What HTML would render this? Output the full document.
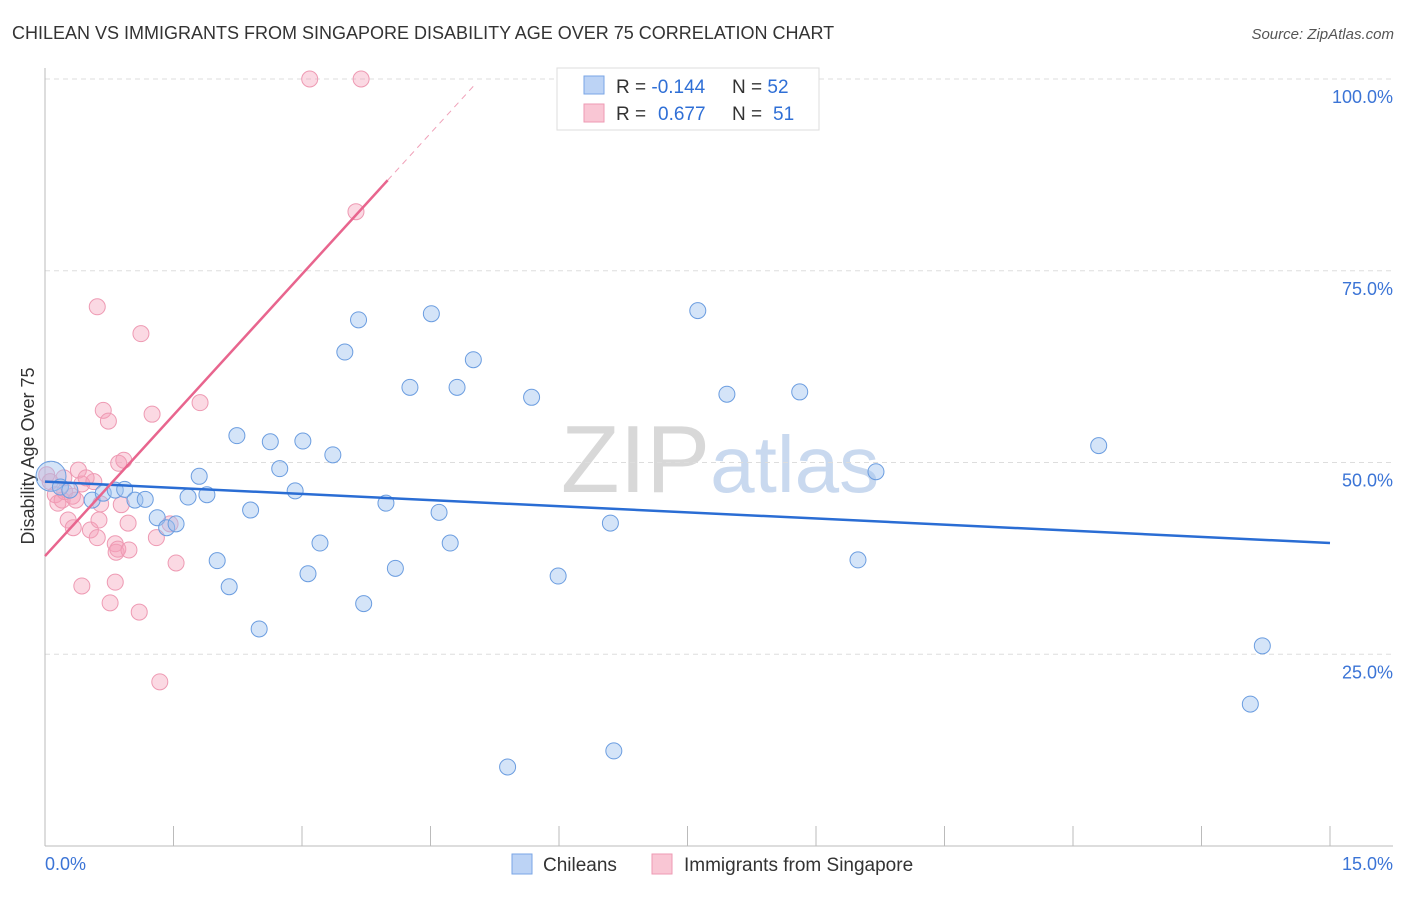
<!DOCTYPE html>
<html><head><meta charset="utf-8"><style>
body{margin:0;background:#fff;font-family:"Liberation Sans",sans-serif;}
svg text{font-family:"Liberation Sans",sans-serif;}
</style></head><body>
<svg id="c" width="1406" height="892" xmlns="http://www.w3.org/2000/svg">
<text x="12" y="39" font-size="18" fill="#333">CHILEAN VS IMMIGRANTS FROM SINGAPORE DISABILITY AGE OVER 75 CORRELATION CHART</text>
<text x="1394" y="39" font-size="15" fill="#555" font-style="italic" text-anchor="end">Source: ZipAtlas.com</text>
<text x="720" y="492" font-size="96" fill="#ddd" text-anchor="middle" font-family="Liberation Serif"><tspan fill="#d8d8d8">ZIP</tspan><tspan fill="#c9d9ef" font-family="Liberation Sans" font-size="80">atlas</tspan></text>
<text x="34" y="456" font-size="18" fill="#333" text-anchor="middle" transform="rotate(-90 34 456)">Disability Age Over 75</text>
<g id="grid"></g><g id="pts"></g><g id="lines"></g>
<g>
<rect x="557" y="68" width="262" height="62" fill="#fff" stroke="#ddd"/>
<rect x="584" y="76" width="20" height="18" fill="#bcd3f5" stroke="#7aa6e6"/>
<rect x="584" y="104" width="20" height="18" fill="#f9c6d4" stroke="#ee9ab3"/>
<text x="616" y="93" font-size="19" fill="#333">R = <tspan fill="#2f6fd6">-0.144</tspan><tspan x="732">N = </tspan><tspan fill="#2f6fd6">52</tspan></text>
<text x="616" y="120" font-size="19" fill="#333">R = <tspan fill="#2f6fd6" x="658">0.677</tspan><tspan x="732">N = </tspan><tspan fill="#2f6fd6" x="773">51</tspan></text>
</g>
<text x="45" y="870" font-size="18" fill="#3b74d6">0.0%</text>
<text x="1393" y="870" font-size="18" fill="#3b74d6" text-anchor="end">15.0%</text>
<g>
<rect x="512" y="854" width="20" height="20" fill="#bcd3f5" stroke="#7aa6e6"/>
<text x="543" y="871" font-size="19" fill="#333">Chileans</text>
<rect x="652" y="854" width="20" height="20" fill="#f9c6d4" stroke="#ee9ab3"/>
<text x="684" y="871" font-size="19" fill="#333">Immigrants from Singapore</text>
</g>
</svg>
<script>
const yTicks=[100,75,50,25];
const yTickLabels=["100.0%","75.0%","50.0%","25.0%"];
const xTicks=[0,1.5,3,4.5,6,7.5,9,10.5,12,13.5,15];
const blueX=[0.07,0.18,0.29,0.55,0.68,0.82,0.93,1.05,1.17,1.31,1.42,1.53,1.67,1.80,1.89,2.01,2.15,2.24,2.40,2.50,2.63,2.74,2.92,3.01,3.07,3.21,3.36,3.50,3.66,3.72,3.98,4.09,4.26,4.51,4.60,4.73,4.81,5.00,5.40,5.68,5.99,6.60,6.64,7.62,7.96,8.81,9.49,9.70,12.30,14.07,14.21];
const blueY=[48.2,46.8,46.4,45.1,46.0,46.4,46.5,45.1,45.2,42.8,41.5,42.0,45.5,48.2,45.8,37.2,33.8,53.5,43.8,28.3,52.7,49.2,46.3,52.8,35.5,39.5,51.0,64.4,68.6,31.6,44.7,36.2,59.8,69.4,43.5,39.5,59.8,63.4,10.3,58.5,35.2,42.1,12.4,69.8,58.9,59.2,37.3,48.8,52.2,18.5,26.1];
const pinkX=[0.02,0.06,0.12,0.15,0.2,0.23,0.27,0.32,0.33,0.36,0.39,0.43,0.43,0.53,0.57,0.61,0.61,0.63,0.65,0.68,0.74,0.76,0.82,0.83,0.85,0.86,0.82,0.92,0.89,0.97,0.98,1.10,1.12,1.25,1.30,1.34,1.46,1.53,1.81,3.09,3.63,3.69,0.22,0.48];
const pinkY=[48.4,47.5,45.8,44.7,45.1,46.2,42.5,45.6,41.5,45.1,49.0,47.2,33.9,41.2,47.5,70.3,40.2,42.5,44.6,56.8,55.4,31.7,39.4,38.3,38.7,49.9,34.4,50.3,44.5,42.1,38.6,30.5,66.8,56.3,40.2,21.4,42.0,36.9,57.8,100,82.7,100,48.0,48.0];
const blueTrend=[47.5,39.5]; // y at x=0 and x=15
const pinkTrend=[37.8,12.25]; // intercept, slope
const X=v=>45+v/15*1285, Y=v=>846-v/100*767;
const NS="http://www.w3.org/2000/svg";
function mk(p,t,a){const e=document.createElementNS(NS,t);for(const k in a)e.setAttribute(k,a[k]);p.appendChild(e);return e;}
const g=document.getElementById('grid');
yTicks.forEach((t,i)=>{
 const l=mk(g,'line',{x1:45,x2:1393,y1:Y(t),y2:Y(t),stroke:'#ddd','stroke-dasharray':'5,4'});
 
 
 const tx=mk(g,'text',{x:1393,y:Y(t)+24,'font-size':18,fill:'#3b74d6','text-anchor':'end'});
 tx.textContent=yTickLabels[i];
 
 
});
mk(g,'line',{x1:45,x2:45,y1:68,y2:846,stroke:'#bbb'});
mk(g,'line',{x1:45,x2:1393,y1:846,y2:846,stroke:'#bbb'});
xTicks.forEach(t=>{
 const l=mk(g,'line',{x1:X(t),x2:X(t),y1:826,y2:846,stroke:'#bbb'});
 
 
});
const pts=document.getElementById('pts');
pinkX.forEach((x,i)=>{
 const c=mk(pts,'circle',{cx:X(x),cy:Y(pinkY[i]),r:8,fill:'rgba(245,160,185,0.4)',stroke:'#ee9ab3','stroke-width':1});
 
 
});
blueX.forEach((x,i)=>{
 const c=mk(pts,'circle',{cx:X(x),cy:Y(blueY[i]),r:i==0?15:8,fill:'rgba(160,195,240,0.45)',stroke:'#6b9de0','stroke-width':1});
 
 
});
const ln=document.getElementById('lines');
const b=mk(ln,'line',{x1:X(0),y1:Y(blueTrend[0]),x2:X(15),y2:Y(blueTrend[1]),stroke:'#2a6dd4','stroke-width':2.5});


const p=mk(ln,'line',{x1:X(0),y1:Y(pinkTrend[0]),x2:X(4),y2:Y(pinkTrend[0]+pinkTrend[1]*4),stroke:'#e8658e','stroke-width':2.5});


const pd=mk(ln,'line',{x1:X(4),y1:Y(pinkTrend[0]+pinkTrend[1]*4),x2:X(5.0),y2:Y(pinkTrend[0]+pinkTrend[1]*5.0),stroke:'#f0a0b8','stroke-width':1,'stroke-dasharray':'6,5'});


</script>
</body></html>
